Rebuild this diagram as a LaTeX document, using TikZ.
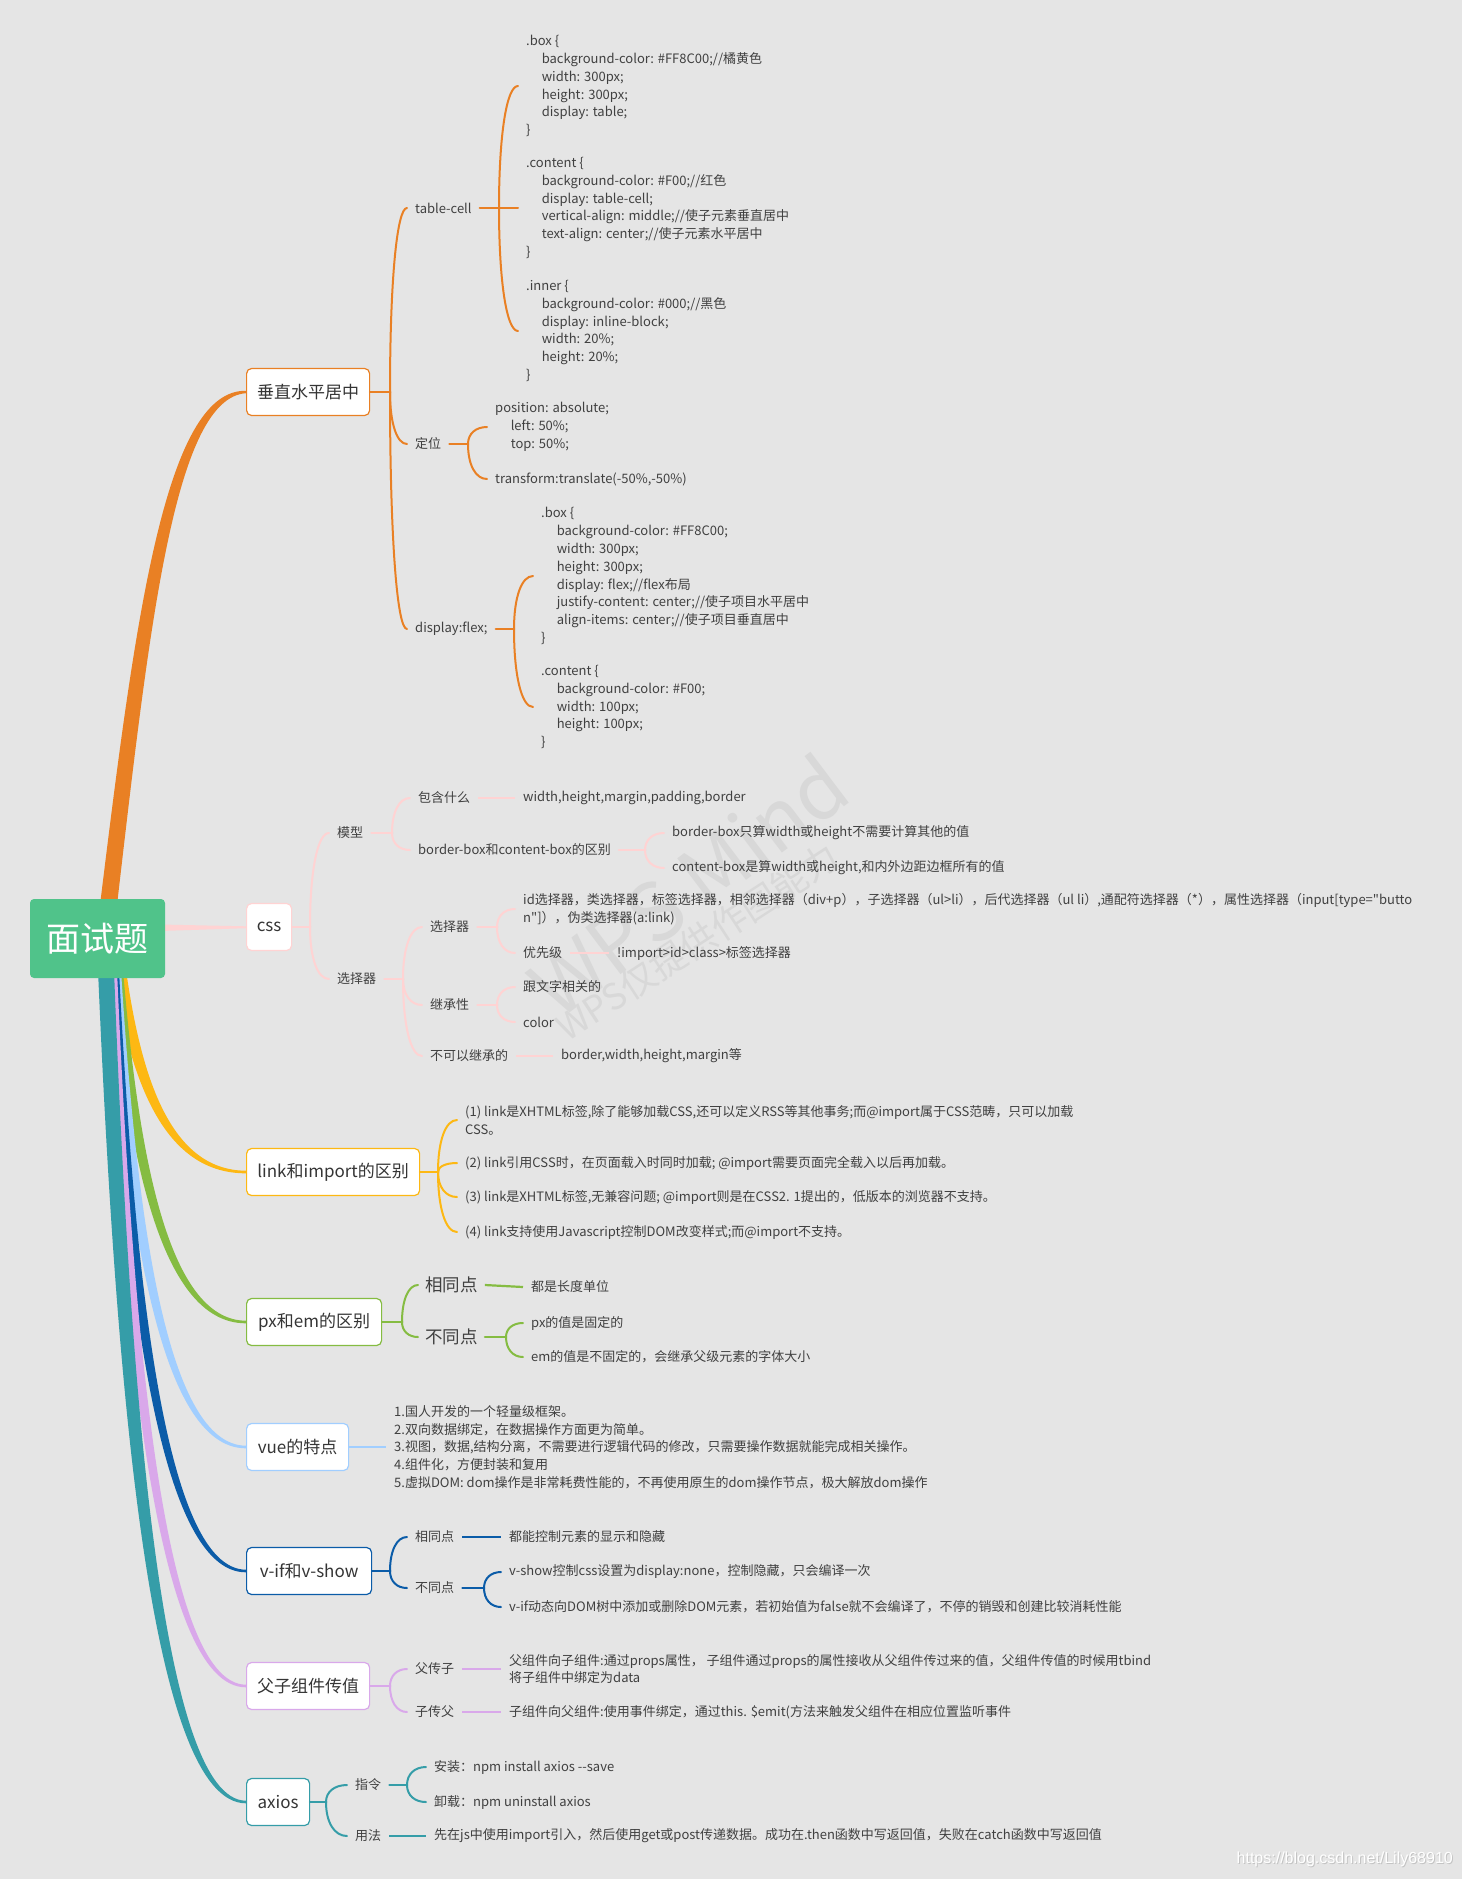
\documentclass[tikz,border=0pt]{standalone}
\usepackage{fontspec}
\newfontfamily\cjkf{Noto Sans CJK SC}
\newfontfamily\arialf{Liberation Sans}
\usetikzlibrary{calc}
\definecolor{bgC}{HTML}{E5E5E5}
\definecolor{wmC}{HTML}{D8D8D8}
\definecolor{txtC}{HTML}{404040}
\definecolor{mainTxt}{HTML}{353535}
\definecolor{rootC}{HTML}{50C38A}
\definecolor{oC}{HTML}{E98024}
\definecolor{pC}{HTML}{FFD3D3}
\definecolor{yC}{HTML}{FDB813}
\definecolor{gC}{HTML}{85BC42}
\definecolor{lbC}{HTML}{A1CEFF}
\definecolor{dbC}{HTML}{0B5CA8}
\definecolor{lvC}{HTML}{D9A8EA}
\definecolor{tC}{HTML}{359DA8}
\definecolor{shC}{HTML}{C4C4C4}
\newcommand\cind{\hspace*{15.6pt}}
\newcommand\armto[3][]{\draw[#1] (#2) .. controls ($(#2)!0.6!(#2|-#3.west)$) and ($(#3.west)!0.6!(#3.west-|#2)$) .. (#3.west);}
\newcommand\branch[4]{%
\fill[#1] (#2,970) .. controls ({#2+0.12*(246-#2)},{970+0.5*(#4-970)}) and ({#2+0.35*(246-#2)},{#4+1.6}) .. (246,{#4+1.3}) -- (246,{#4-1.3}) .. controls ({#3+0.35*(246-#3)},{#4-1.6}) and ({#3+0.12*(246-#3)},{970+0.5*(#4-970)}) .. (#3,970) -- cycle;}
\begin{document}
\begin{tikzpicture}[x=1pt,y=-1pt,
  mainbox/.style={draw=#1, line width=1.2pt, fill=white, rounded corners=5pt, text=mainTxt,
    font=\cjkf\fontsize{17}{20}\selectfont, minimum height=47pt, inner xsep=0pt, anchor=west},
  leaf/.style={text=txtC, font=\cjkf\fontsize{13}{17.9}\selectfont, inner xsep=8pt, inner ysep=1pt, anchor=west, align=left},
  bigleaf/.style={leaf, font=\cjkf\fontsize{17.5}{20}\selectfont, inner xsep=7pt},
  stem/.style={draw=#1, line width=2.8pt, line cap=round},
  arm/.style={draw=#1, line width=2pt, line cap=round},
  lline/.style={draw=#1, line width=2.2pt},
]
\useasboundingbox (0,0) rectangle (1462,1879);
\fill[bgC] (0,0) rectangle (1462,1879);

% watermark
\node[text=wmC, font=\cjkf\fontsize{80}{80}\selectfont, rotate=37] (wm1) at (688,885) {WPS Mind};
\node[text=wmC, font=\cjkf\fontsize{36}{36}\selectfont, rotate=33] (wm2) at (697,942) {WPS仅提供作图能力};

% main branches
\fill[oC] (100,905) .. controls (135,620) and (165,389) .. (246,390.8) -- (246,393.2) .. controls (175,398) and (150,620) .. (117,905) -- cycle;
\fill[pC] (160,924.5) -- (246,926.3) -- (246,928.2) -- (160,931) -- cycle;
\branch{yC}{113}{126}{1172}
\branch{gC}{111}{123}{1322}
\branch{lbC}{109}{121}{1447}
\branch{dbC}{107}{119}{1571}
\branch{lvC}{105}{117}{1686}
\branch{tC}{98}{114}{1802}

% root
\node[fill=rootC, rounded corners=4pt, text=white, font=\cjkf\fontsize{34}{34}\selectfont,
  minimum width=135pt, minimum height=79pt, inner sep=0pt] (root) at (97.5,938.5) {面试题};

% ===== 垂直水平居中 =====
\node[mainbox=oC, minimum width=123pt] (vc) at (246,392) {垂直水平居中};
\coordinate (vcJ) at (390,392);
\node[leaf] (tc) at (407,208) {table-cell};
\node[leaf] (dw) at (407,444) {定位};
\node[leaf] (df) at (407,629) {display:flex;};
\coordinate (tcJ) at (499,208);
\node[leaf] (tcA) at (518,86) {.box \{\\\cind background-color: \#FF8C00;//橘黄色\\\cind width: 300px;\\\cind height: 300px;\\\cind display: table;\\\}};
\node[leaf] (tcB) at (518,208) {.content \{\\\cind background-color: \#F00;//红色\\\cind display: table-cell;\\\cind vertical-align: middle;//使子元素垂直居中\\\cind text-align: center;//使子元素水平居中\\\}};
\node[leaf] (tcC) at (518,331) {.inner \{\\\cind background-color: \#000;//黑色\\\cind display: inline-block;\\\cind width: 20\%;\\\cind height: 20\%;\\\}};
\coordinate (dwJ) at (468,444);
\node[leaf] (dwA) at (487,427) {position: absolute;\\\cind left: 50\%;\\\cind top: 50\%;};
\node[leaf] (dwB) at (487,479) {transform:translate(-50\%,-50\%)};
\coordinate (dfJ) at (514,629);
\node[leaf] (dfA) at (533,576) {.box \{\\\cind background-color: \#FF8C00;\\\cind width: 300px;\\\cind height: 300px;\\\cind display: flex;//flex布局\\\cind justify-content: center;//使子项目水平居中\\\cind align-items: center;//使子项目垂直居中\\\}};
\node[leaf] (dfB) at (533,707) {.content \{\\\cind background-color: \#F00;\\\cind width: 100px;\\\cind height: 100px;\\\}};
\draw[stem=oC] (vc.east) -- (vcJ);
\armto[arm=oC]{vcJ}{tc}\armto[arm=oC]{vcJ}{dw}\armto[arm=oC]{vcJ}{df}
\draw[stem=oC,line width=2.4pt] (tc.east) -- (tcJ);
\armto[arm=oC]{tcJ}{tcA}\armto[arm=oC]{tcJ}{tcB}\armto[arm=oC]{tcJ}{tcC}
\draw[stem=oC,line width=2.4pt] (dw.east) -- (dwJ);
\armto[arm=oC]{dwJ}{dwA}\armto[arm=oC]{dwJ}{dwB}
\draw[stem=oC,line width=2.4pt] (df.east) -- (dfJ);
\armto[arm=oC]{dfJ}{dfA}\armto[arm=oC]{dfJ}{dfB}

% ===== css =====
\node[mainbox=pC, minimum width=45pt] (css) at (246,927) {css};
\coordinate (cssJ) at (310,927);
\node[leaf] (mx) at (329,833) {模型};
\node[leaf] (xz) at (329,979) {选择器};
\coordinate (mxJ) at (392,833);
\node[leaf] (bh) at (410,798) {包含什么};
\node[leaf] (bb) at (410,850) {border-box和content-box的区别};
\node[leaf] (whm) at (515,798) {width,height,margin,padding,border};
\coordinate (bbJ) at (645,850);
\node[leaf] (bb1) at (664,833) {border-box只算width或height不需要计算其他的值};
\node[leaf] (bb2) at (664,868) {content-box是算width或height,和内外边距边框所有的值};
\coordinate (xzJ) at (403,979);
\node[leaf] (xz3) at (422,927) {选择器};
\node[leaf] (jc) at (422,1005) {继承性};
\node[leaf] (bk) at (422,1056) {不可以继承的};
\coordinate (xz3J) at (497,927);
\node[leaf] (ids) at (515,909) {id选择器，类选择器，标签选择器，相邻选择器（div+p），子选择器（ul>li），后代选择器（ul li）,通配符选择器（*），属性选择器（input[type="butto\\n"]），伪类选择器(a:link)};
\node[leaf] (yxj) at (515,953) {优先级};
\node[leaf] (imp) at (609,953) {!import>id>class>标签选择器};
\coordinate (jcJ) at (497,1005);
\node[leaf] (gw) at (515,987) {跟文字相关的};
\node[leaf] (col) at (515,1022) {color};
\node[leaf] (bwh) at (553,1056) {border,width,height,margin等};
\draw[stem=pC] (css.east) -- (cssJ);
\armto[arm=pC]{cssJ}{mx}\armto[arm=pC]{cssJ}{xz}
\draw[stem=pC,line width=2.4pt] (mx.east) -- (mxJ);
\armto[arm=pC]{mxJ}{bh}\armto[arm=pC]{mxJ}{bb}
\draw[lline=pC] (bh.east) -- (whm.west);
\draw[stem=pC,line width=2.4pt] (bb.east) -- (bbJ);
\armto[arm=pC]{bbJ}{bb1}\armto[arm=pC]{bbJ}{bb2}
\draw[stem=pC,line width=2.4pt] (xz.east) -- (xzJ);
\armto[arm=pC]{xzJ}{xz3}\armto[arm=pC]{xzJ}{jc}\armto[arm=pC]{xzJ}{bk}
\draw[stem=pC,line width=2.4pt] (xz3.east) -- (xz3J);
\armto[arm=pC]{xz3J}{ids}\armto[arm=pC]{xz3J}{yxj}
\draw[lline=pC] (yxj.east) -- (imp.west);
\draw[stem=pC,line width=2.4pt] (jc.east) -- (jcJ);
\armto[arm=pC]{jcJ}{gw}\armto[arm=pC]{jcJ}{col}
\draw[lline=pC] (bk.east) -- (bwh.west);

% ===== link =====
\node[mainbox=yC, minimum width=173pt] (lk) at (246,1172) {link和import的区别};
\coordinate (lkJ) at (438,1172);
\node[leaf] (lk1) at (457,1120) {(1) link是XHTML标签,除了能够加载CSS,还可以定义RSS等其他事务;而@import属于CSS范畴，只可以加载\\CSS。};
\node[leaf] (lk2) at (457,1163) {(2) link引用CSS时，在页面载入时同时加载; @import需要页面完全载入以后再加载。};
\node[leaf] (lk3) at (457,1197) {(3) link是XHTML标签,无兼容问题; @import则是在CSS2. 1提出的，低版本的浏览器不支持。};
\node[leaf] (lk4) at (457,1232) {(4) link支持使用Javascript控制DOM改变样式;而@import不支持。};
\draw[stem=yC] (lk.east) -- (lkJ);
\armto[arm=yC]{lkJ}{lk1}\armto[arm=yC]{lkJ}{lk2}\armto[arm=yC]{lkJ}{lk3}\armto[arm=yC]{lkJ}{lk4}

% ===== px em =====
\node[mainbox=gC, minimum width=135pt] (px) at (246,1322) {px和em的区别};
\coordinate (pxJ) at (402,1322);
\node[bigleaf] (same) at (418,1285) {相同点};
\node[bigleaf] (diff) at (418,1337) {不同点};
\node[leaf] (same1) at (523,1287) {都是长度单位};
\coordinate (diffJ) at (506,1337);
\node[leaf] (diff1) at (523,1323) {px的值是固定的};
\node[leaf] (diff2) at (523,1357) {em的值是不固定的，会继承父级元素的字体大小};
\draw[stem=gC] (px.east) -- (pxJ);
\armto[arm=gC]{pxJ}{same}\armto[arm=gC]{pxJ}{diff}
\draw[lline=gC] (same.east) -- (same1.west);
\draw[stem=gC,line width=2.4pt] (diff.east) -- (diffJ);
\armto[arm=gC]{diffJ}{diff1}\armto[arm=gC]{diffJ}{diff2}

% ===== vue =====
\node[mainbox=lbC, minimum width=102pt] (vue) at (246,1447) {vue的特点};
\node[leaf, font=\cjkf\fontsize{13}{17.6}\selectfont] (vtx) at (386,1447) {1.国人开发的一个轻量级框架。\\2.双向数据绑定，在数据操作方面更为简单。\\3.视图，数据,结构分离，不需要进行逻辑代码的修改，只需要操作数据就能完成相关操作。\\4.组件化，方便封装和复用\\5.虚拟DOM: dom操作是非常耗费性能的，不再使用原生的dom操作节点，极大解放dom操作};
\draw[lline=lbC] (vue.east) -- (vtx.west);

% ===== v-if =====
\node[mainbox=dbC, minimum width=125pt] (vif) at (246,1571) {v-if和v-show};
\coordinate (vifJ) at (390,1571);
\node[leaf] (vs) at (407,1537) {相同点};
\node[leaf] (vd) at (407,1588) {不同点};
\node[leaf] (vs1) at (501,1537) {都能控制元素的显示和隐藏};
\coordinate (vdJ) at (484,1588);
\node[leaf] (vd1) at (501,1572) {v-show控制css设置为display:none，控制隐藏，只会编译一次};
\node[leaf] (vd2) at (501,1607) {v-if动态向DOM树中添加或删除DOM元素，若初始值为false就不会编译了，不停的销毁和创建比较消耗性能};
\draw[stem=dbC] (vif.east) -- (vifJ);
\armto[arm=dbC]{vifJ}{vs}\armto[arm=dbC]{vifJ}{vd}
\draw[lline=dbC] (vs.east) -- (vs1.west);
\draw[stem=dbC,line width=2.4pt] (vd.east) -- (vdJ);
\armto[arm=dbC]{vdJ}{vd1}\armto[arm=dbC]{vdJ}{vd2}

% ===== 父子组件传值 =====
\node[mainbox=lvC, minimum width=123pt] (fz) at (246,1686) {父子组件传值};
\coordinate (fzJ) at (390,1686);
\node[leaf] (fcz) at (407,1669) {父传子};
\node[leaf] (zcf) at (407,1712) {子传父};
\node[leaf] (fcz1) at (501,1669) {父组件向子组件:通过props属性， 子组件通过props的属性接收从父组件传过来的值，父组件传值的时候用tbind\\将子组件中绑定为data};
\node[leaf] (zcf1) at (501,1712) {子组件向父组件:使用事件绑定，通过this. \$emit(方法来触发父组件在相应位置监听事件};
\draw[stem=lvC] (fz.east) -- (fzJ);
\armto[arm=lvC]{fzJ}{fcz}\armto[arm=lvC]{fzJ}{zcf}
\draw[lline=lvC] (fcz.east) -- (fcz1.west);
\draw[lline=lvC] (zcf.east) -- (zcf1.west);

% ===== axios =====
\node[mainbox=tC, minimum width=63pt] (ax) at (246,1802) {axios};
\coordinate (axJ) at (326,1802);
\node[leaf] (zl) at (347,1785) {指令};
\node[leaf] (yf) at (347,1836) {用法};
\coordinate (zlJ) at (407,1785);
\node[leaf] (az) at (426,1767) {安装：npm install axios --save};
\node[leaf] (xz2) at (426,1802) {卸载：npm uninstall axios};
\node[leaf] (yf1) at (426,1836) {先在js中使用import引入，然后使用get或post传递数据。成功在.then函数中写返回值，失败在catch函数中写返回值};
\draw[stem=tC] (ax.east) -- (axJ);
\armto[arm=tC]{axJ}{zl}\armto[arm=tC]{axJ}{yf}
\draw[stem=tC,line width=2.4pt] (zl.east) -- (zlJ);
\armto[arm=tC]{zlJ}{az}\armto[arm=tC]{zlJ}{xz2}
\draw[lline=tC] (yf.east) -- (yf1.west);

% csdn mark
\node[anchor=east, text=shC, font=\arialf\fontsize{16}{16}\selectfont, inner sep=0pt] (csdnS) at (1454,1860) {https://blog.csdn.net/Lily68910};
\node[anchor=east, text=white, font=\arialf\fontsize{16}{16}\selectfont, inner sep=0pt] (csdn) at (1453,1859) {https://blog.csdn.net/Lily68910};
\end{tikzpicture}
\end{document}
